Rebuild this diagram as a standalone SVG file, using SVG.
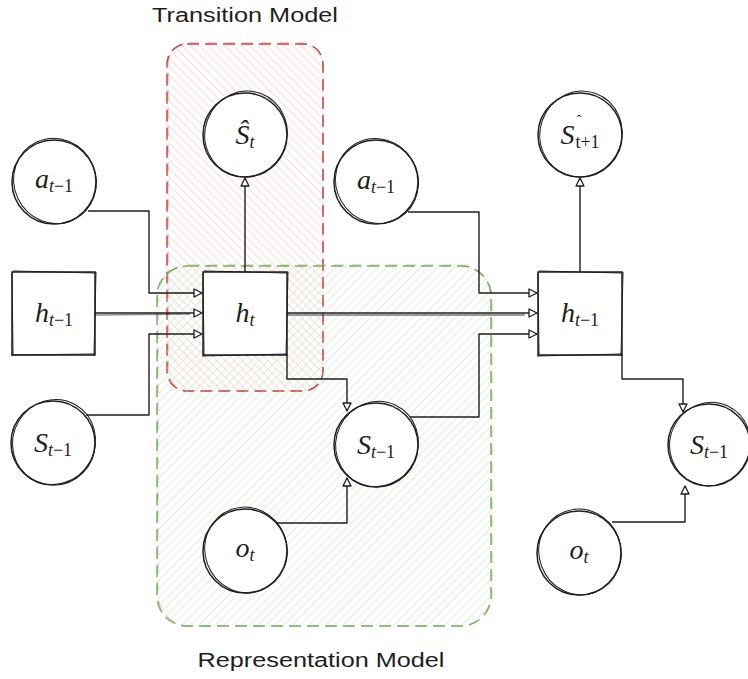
<svg xmlns="http://www.w3.org/2000/svg" width="748" height="679" viewBox="0 0 748 679">
<defs>
<style>
.n{fill:#fff;stroke:#1e1e1e;stroke-width:1.5}
.n2{fill:none;stroke:#1e1e1e;stroke-width:1}
.c{fill:none;stroke:#1e1e1e;stroke-width:1.4;stroke-linejoin:round}
.m{font-family:"Liberation Serif",serif;font-size:28px;fill:#1e1e1e;font-style:italic}
.s{font-size:18px}
.r{font-style:normal}
.t{font-family:"Liberation Sans","Noto Sans",sans-serif;font-size:20px;fill:#1e1e1e}
</style>
<pattern id="hr" patternUnits="userSpaceOnUse" width="6" height="6" patternTransform="rotate(-45)">
<line x1="0" y1="0" x2="0" y2="6" stroke="#f2a3a3" stroke-width="1" opacity="0.8"/>
</pattern>
<pattern id="hg" patternUnits="userSpaceOnUse" width="6" height="6" patternTransform="rotate(45)">
<line x1="0" y1="0" x2="0" y2="6" stroke="#b9dcb0" stroke-width="1" opacity="0.9"/>
</pattern>
<marker id="ar" viewBox="0 0 10 10" refX="9" refY="5" markerWidth="10" markerHeight="10" markerUnits="userSpaceOnUse" orient="auto">
<path d="M1,1 L9,5 L1,9 Z" fill="#fff" stroke="#1e1e1e" stroke-width="1.3" stroke-linejoin="round"/>
</marker>
</defs>
<rect width="748" height="679" fill="#fff"/>

<g id="transition-model">
<rect x="167" y="44" width="156" height="347" rx="20" fill="url(#hr)" stroke="#c94a4a" stroke-width="1.5" stroke-dasharray="12 6"/>
<rect x="168" y="43" width="155" height="348" rx="21" fill="none" stroke="#c94a4a" stroke-width="0.8" stroke-dasharray="10 8" opacity="0.7"/>
<text class="t" x="245" y="22" text-anchor="middle" textLength="186" lengthAdjust="spacingAndGlyphs">Transition Model</text>
</g>

<g id="representation-model">
<rect x="157" y="266" width="334" height="360" rx="30" fill="url(#hg)" stroke="#78b060" stroke-width="1.5" stroke-dasharray="12 6"/>
<rect x="158" y="265" width="334" height="361" rx="32" fill="none" stroke="#78b060" stroke-width="0.8" stroke-dasharray="10 8" opacity="0.7"/>
<text class="t" x="321" y="667" text-anchor="middle" textLength="247" lengthAdjust="spacingAndGlyphs">Representation Model</text>
</g>

<g id="connectors">
<path class="c" d="M88,211 L149,211 L149,293 L202,293" marker-end="url(#ar)"/>
<path class="c" d="M95,313 L202,313" marker-end="url(#ar)"/>
<path class="c" d="M95,315 L190,314" opacity="0.5"/>
<path class="c" d="M86,415 L149,415 L149,334 L202,334" marker-end="url(#ar)"/>
<path class="c" d="M245,272 L245,178" marker-end="url(#ar)"/>
<path class="c" d="M287,313 L537,313" marker-end="url(#ar)"/>
<path class="c" d="M287,315 L525,315" opacity="0.6"/>
<path class="c" d="M408,212 L479,212 L479,293 L537,293" marker-end="url(#ar)"/>
<path class="c" d="M410,417 L479,417 L479,334 L537,334" marker-end="url(#ar)"/>
<path class="c" d="M287,355 L287,379 L347,379 L347,411" marker-end="url(#ar)"/>
<path class="c" d="M276,523 L347,523 L347,478" marker-end="url(#ar)"/>
<path class="c" d="M580,272 L580,178" marker-end="url(#ar)"/>
<path class="c" d="M622,355 L622,379 L683,379 L683,412" marker-end="url(#ar)"/>
<path class="c" d="M612,522 L685,522 L685,486" marker-end="url(#ar)"/>
</g>

<g id="node-s-hat-t">
<circle class="n" cx="245" cy="135" r="42"/>
<ellipse class="n2" cx="246" cy="134" rx="41" ry="43" transform="rotate(20 246 134)"/>
<text class="m" x="245" y="144" text-anchor="middle">Ŝ<tspan class="s" dy="4">t</tspan></text>
</g>

<g id="node-a-left">
<circle class="n" cx="54" cy="182" r="42"/>
<ellipse class="n2" cx="55" cy="181" rx="41" ry="43" transform="rotate(-25 55 181)"/>
<text class="m" x="54" y="188" text-anchor="middle">a<tspan class="s" dy="4">t</tspan><tspan class="s r">−1</tspan></text>
</g>

<g id="node-h-left">
<rect class="n" x="12" y="272" width="83" height="83"/>
<path class="n2" d="M13,271 L96,273 M96,272 L94,356 M11,355 L95,354 M12,273 L13,355"/>
<text class="m" x="54" y="322" text-anchor="middle">h<tspan class="s" dy="4">t</tspan><tspan class="s r">−1</tspan></text>
</g>

<g id="node-s-left">
<circle class="n" cx="53" cy="443" r="42"/>
<ellipse class="n2" cx="54" cy="442" rx="41" ry="43" transform="rotate(30 54 442)"/>
<text class="m" x="53" y="452" text-anchor="middle">S<tspan class="s" dy="4">t</tspan><tspan class="s r">−1</tspan></text>
</g>

<g id="node-h-t">
<rect class="n" x="203" y="272" width="84" height="83"/>
<path class="n2" d="M204,271 L287,273 M288,272 L286,356 M202,356 L287,354 M203,273 L204,355"/>
<text class="m" x="245" y="322" text-anchor="middle">h<tspan class="s" dy="4">t</tspan></text>
</g>

<g id="node-a-mid">
<circle class="n" cx="376" cy="182" r="42"/>
<ellipse class="n2" cx="377" cy="181" rx="41" ry="43" transform="rotate(-30 377 181)"/>
<text class="m" x="376" y="189" text-anchor="middle">a<tspan class="s" dy="4">t</tspan><tspan class="s r">−1</tspan></text>
</g>

<g id="node-s-mid">
<circle class="n" cx="376" cy="445" r="42"/>
<ellipse class="n2" cx="377" cy="444" rx="41" ry="43" transform="rotate(25 377 444)"/>
<text class="m" x="376" y="454" text-anchor="middle">S<tspan class="s" dy="4">t</tspan><tspan class="s r">−1</tspan></text>
</g>

<g id="node-o-mid">
<circle class="n" cx="245" cy="551" r="42"/>
<ellipse class="n2" cx="246" cy="550" rx="41" ry="43" transform="rotate(-20 246 550)"/>
<text class="m" x="245" y="557" text-anchor="middle">o<tspan class="s" dy="4">t</tspan></text>
</g>

<g id="node-s-hat-t1">
<circle class="n" cx="580" cy="135" r="42"/>
<ellipse class="n2" cx="581" cy="134" rx="41" ry="43" transform="rotate(20 581 134)"/>
<text class="m" x="580" y="144" text-anchor="middle">S<tspan class="r" font-size="15" dx="2" dy="-19">ˆ</tspan><tspan class="s r" dx="-6" dy="23">t+1</tspan></text>
</g>

<g id="node-h-right">
<rect class="n" x="538" y="272" width="84" height="83"/>
<path class="n2" d="M539,271 L622,273 M623,272 L621,356 M537,356 L622,354 M538,273 L539,355"/>
<text class="m" x="580" y="322" text-anchor="middle">h<tspan class="s" dy="4">t</tspan><tspan class="s r">−1</tspan></text>
</g>

<g id="node-s-right">
<circle class="n" cx="709" cy="445" r="41"/>
<ellipse class="n2" cx="710" cy="444" rx="40" ry="42" transform="rotate(25 710 444)"/>
<text class="m" x="709" y="454" text-anchor="middle">S<tspan class="s" dy="4">t</tspan><tspan class="s r">−1</tspan></text>
</g>

<g id="node-o-right">
<circle class="n" cx="579" cy="553" r="42"/>
<ellipse class="n2" cx="580" cy="552" rx="41" ry="43" transform="rotate(-20 580 552)"/>
<text class="m" x="579" y="559" text-anchor="middle">o<tspan class="s" dy="4">t</tspan></text>
</g>
</svg>
